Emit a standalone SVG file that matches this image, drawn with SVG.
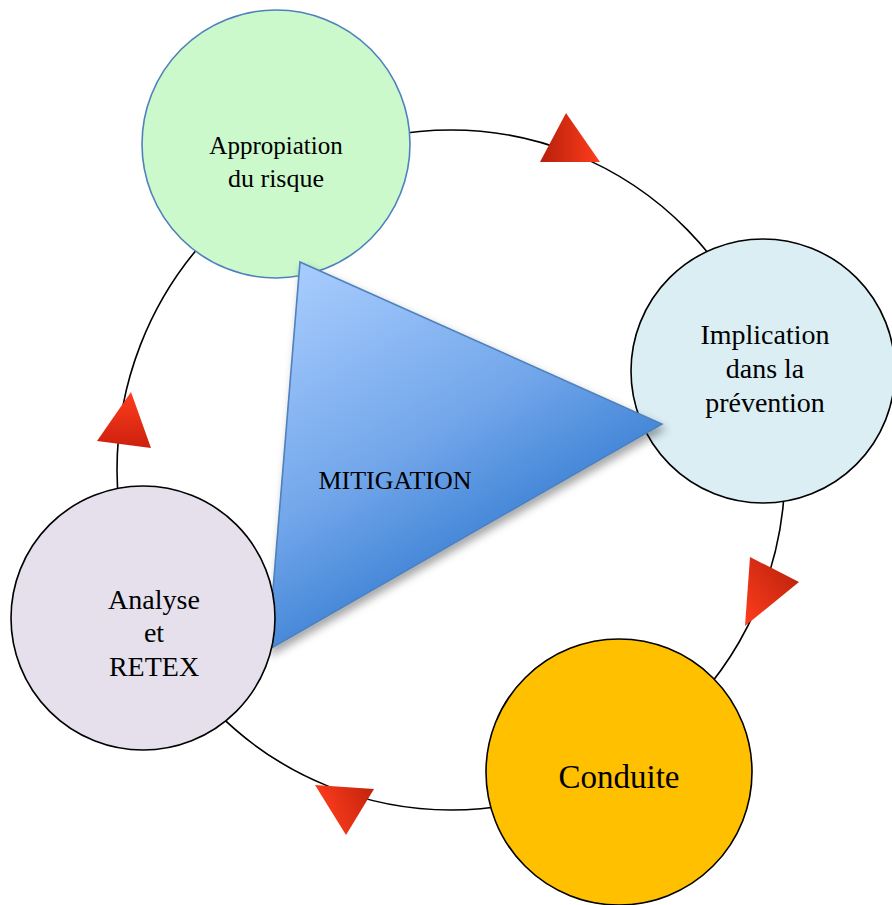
<svg xmlns="http://www.w3.org/2000/svg" width="892" height="905" viewBox="0 0 892 905">
<style>
.node{stroke:#000;stroke-width:1.6}
.t{font-family:"Liberation Serif","Times New Roman",serif;fill:#000;text-anchor:middle}
.cycle{fill:none;stroke:#000;stroke-width:1.6}
</style>
<defs>
<linearGradient id="gTri" gradientUnits="userSpaceOnUse" x1="290" y1="280" x2="480" y2="600">
<stop offset="0" stop-color="#a6cbfd"/>
<stop offset="0.55" stop-color="#72a6ea"/>
<stop offset="1" stop-color="#2f78cf"/>
</linearGradient>
<linearGradient id="r1" x1="0" y1="0" x2="1" y2="0"><stop offset="0" stop-color="#b51f0b"/><stop offset="1" stop-color="#ff3d1d"/></linearGradient>
<linearGradient id="r2" x1="1" y1="0" x2="0" y2="1"><stop offset="0" stop-color="#b51f0b"/><stop offset="1" stop-color="#ff3d1d"/></linearGradient>
<linearGradient id="r3" x1="1" y1="0" x2="0" y2="0.3"><stop offset="0" stop-color="#c0220c"/><stop offset="1" stop-color="#ff3d1d"/></linearGradient>
<linearGradient id="r4" x1="0" y1="0" x2="0" y2="1"><stop offset="0" stop-color="#ff3d1d"/><stop offset="1" stop-color="#cc200d"/></linearGradient>
<filter id="sh" x="-20%" y="-20%" width="140%" height="140%">
<feDropShadow dx="3" dy="5" stdDeviation="4" flood-color="#000" flood-opacity="0.35"/>
</filter>
</defs>
<g id="connectors">
<ellipse class="cycle" cx="451" cy="470" rx="334" ry="340"/>
<polygon points="566,113 600,162 540,162" fill="url(#r1)"/>
<polygon points="750,557 799,582 745,626" fill="url(#r2)"/>
<polygon points="315,785 374,789 346,835" fill="url(#r3)"/>
<polygon points="131,392 151,448 97,441" fill="url(#r4)"/>
</g>
<g id="appropriation">
<circle cx="276" cy="144" r="134" fill="#ccf9cc" stroke="#4f81bd" stroke-width="1.6"/>
<text class="t" x="276" y="154" font-size="25">Appropiation</text>
<text class="t" x="276" y="187" font-size="26">du risque</text>
</g>
<g id="implication">
<circle class="node" cx="763" cy="371" r="132" fill="#dbeef4"/>
<text class="t" x="765" y="344" font-size="28">Implication</text>
<text class="t" x="765" y="378" font-size="28">dans la</text>
<text class="t" x="765" y="412" font-size="28">prévention</text>
</g>
<g id="conduite">
<circle class="node" cx="619" cy="772" r="133" fill="#ffc000"/>
<text class="t" x="619" y="788" font-size="33">Conduite</text>
</g>
<g id="mitigation">
<polygon points="300,262 662,424 268,650" fill="url(#gTri)" stroke="#4f81bd" stroke-width="1.6" filter="url(#sh)"/>
<text class="t" x="395" y="489" font-size="26">MITIGATION</text>
</g>
<g id="analyse">
<circle class="node" cx="143" cy="618" r="132" fill="#e5e0ec"/>
<text class="t" x="154" y="609" font-size="28">Analyse</text>
<text class="t" x="154" y="642" font-size="28">et</text>
<text class="t" x="154" y="676" font-size="28">RETEX</text>
</g>
</svg>
